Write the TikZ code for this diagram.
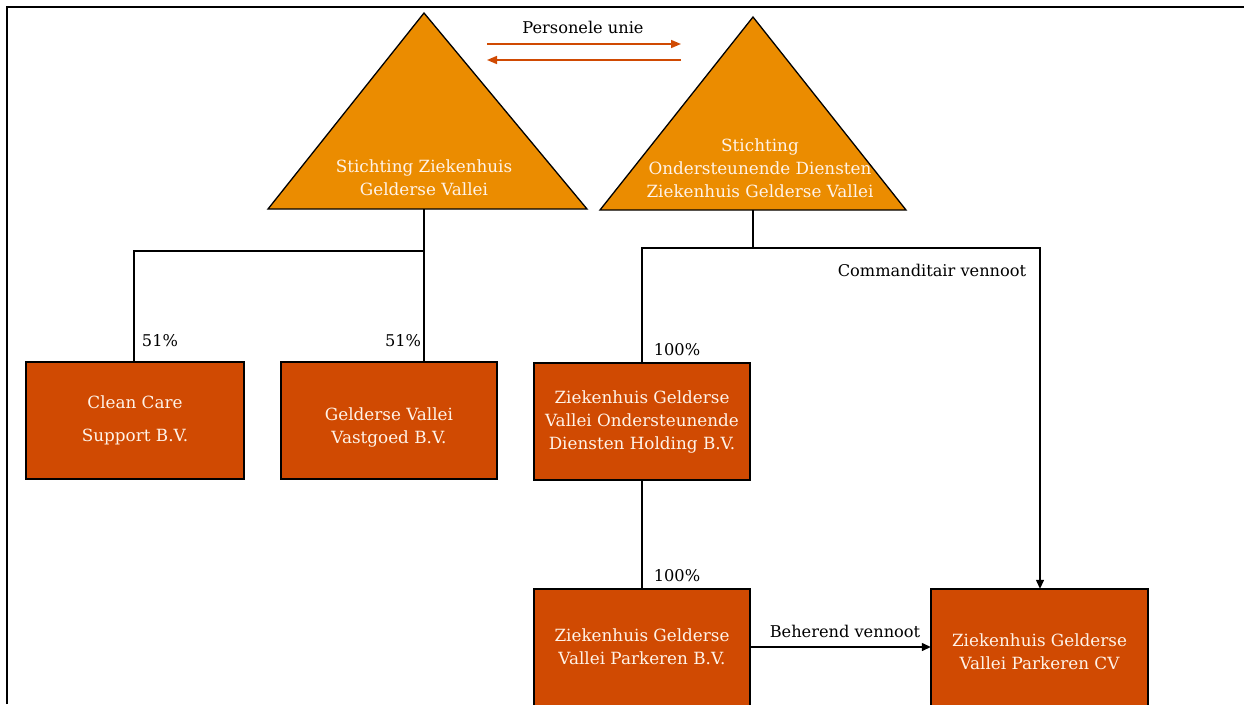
\documentclass[tikz,border=0pt]{standalone}
\usepackage{fontspec}
\setmainfont{DejaVu Serif}
\usetikzlibrary{arrows.meta}
\definecolor{triorange}{HTML}{EB8C00}
\definecolor{boxred}{HTML}{D04A02}
\definecolor{txtwhite}{HTML}{FFF3E8}
\tikzset{
  tri/.style={fill=triorange,draw=black,line width=1.3pt,line join=miter},
  entity/.style={fill=boxred,draw=black,line width=1.5pt},
  wtext/.style={text=txtwhite,align=center,font=\fontsize{16.8}{23}\selectfont,inner sep=0pt},
  btext/.style={text=black,font=\fontsize{16.2}{19}\selectfont,inner sep=0pt},
  conn/.style={draw=black,line width=1.3pt},
  carrow/.style={conn,-{Triangle[length=9pt,width=8pt]}},
  oarrow/.style={draw=boxred,line width=1.6pt,-{Triangle[length=10pt,width=8pt]}}
}
\begin{document}
\begin{tikzpicture}[x=1pt,y=-1pt]
\useasboundingbox (0,0) rectangle (1244,704);
\clip (0,0) rectangle (1244,704);
% frame
\draw[line width=2.4pt] (7,704) -- (7,7) -- (1244,7);
% triangles
\draw[tri] (424,13) -- (587,209) -- (268,209) -- cycle;
\coordinate (t1b) at (424,209);
\node[wtext] (t1) at (424,178) {Stichting Ziekenhuis\\Gelderse Vallei};
\draw[tri] (753,17) -- (906,210) -- (600,210) -- cycle;
\coordinate (t2b) at (753,210);
\node[wtext] (t2) at (760,168) {Stichting\\Ondersteunende Diensten\\Ziekenhuis Gelderse Vallei};
% personele unie
\node[btext] (pu) at (583,27) {Personele unie};
\coordinate (pl1) at (487,44); \coordinate (pr1) at (681,44);
\coordinate (pl2) at (487,60); \coordinate (pr2) at (681,60);
\draw[oarrow] (pl1) -- (pr1);
\draw[oarrow] (pr2) -- (pl2);
% boxes
\path[entity] (26,362) rectangle (244,479); \node (cc) at (134,420.5) [minimum width=218pt,minimum height=117pt,inner sep=0pt] {};
\node[wtext,font=\fontsize{16.8}{33}\selectfont] (cct) at (135,420.5) {Clean Care\\Support B.V.};
\path[entity] (281,362) rectangle (497,479); \node (gv) at (424,420.5) [minimum width=1pt,minimum height=117pt,inner sep=0pt] {};
\node[wtext] (gvt) at (389,427) {Gelderse Vallei\\Vastgoed B.V.};
\path[entity] (534,363) rectangle (750,480); \node (hd) at (642,421.5) [minimum width=216pt,minimum height=117pt,inner sep=0pt] {};
\node[wtext] (hdt) at (hd) {Ziekenhuis Gelderse\\Vallei Ondersteunende\\Diensten Holding B.V.};
\path[entity] (534,589) rectangle (750,720); \node (pb) at (642,647) [minimum width=216pt,minimum height=116pt,inner sep=0pt] {};
\node[wtext] (pbt) at (642,647) {Ziekenhuis Gelderse\\Vallei Parkeren B.V.};
\path[entity] (931,589) rectangle (1148,720); \node (pc) at (1040,647) [minimum width=218pt,minimum height=116pt,inner sep=0pt] {};
\node[wtext] (pct) at (1039.5,652) {Ziekenhuis Gelderse\\Vallei Parkeren CV};
% connectors
\coordinate (j1) at (424,251);
\draw[conn] (t1b) -- (j1);
\draw[conn] (j1) -| (cc.north);
\draw[conn] (j1) -- (gv.north);
\node[btext] (p1) at (160,341) {51\%};
\node[btext] (p2) at (403,341) {51\%};
\coordinate (j2) at (753,248);
\draw[conn] (t2b) -- (j2);
\draw[conn] (j2) -| (hd.north);
\draw[carrow] (j2) -| (pc.north);
\node[btext] (cv) at (932,270) {Commanditair vennoot};
\node[btext] (p3) at (677,350) {100\%};
\draw[conn] (hd.south) -- (pb.north);
\node[btext] (p4) at (677,576) {100\%};
\draw[carrow] (pb.east) -- (pc.west);
\node[btext] (bv) at (845,631) {Beherend vennoot};
\end{tikzpicture}
\end{document}
